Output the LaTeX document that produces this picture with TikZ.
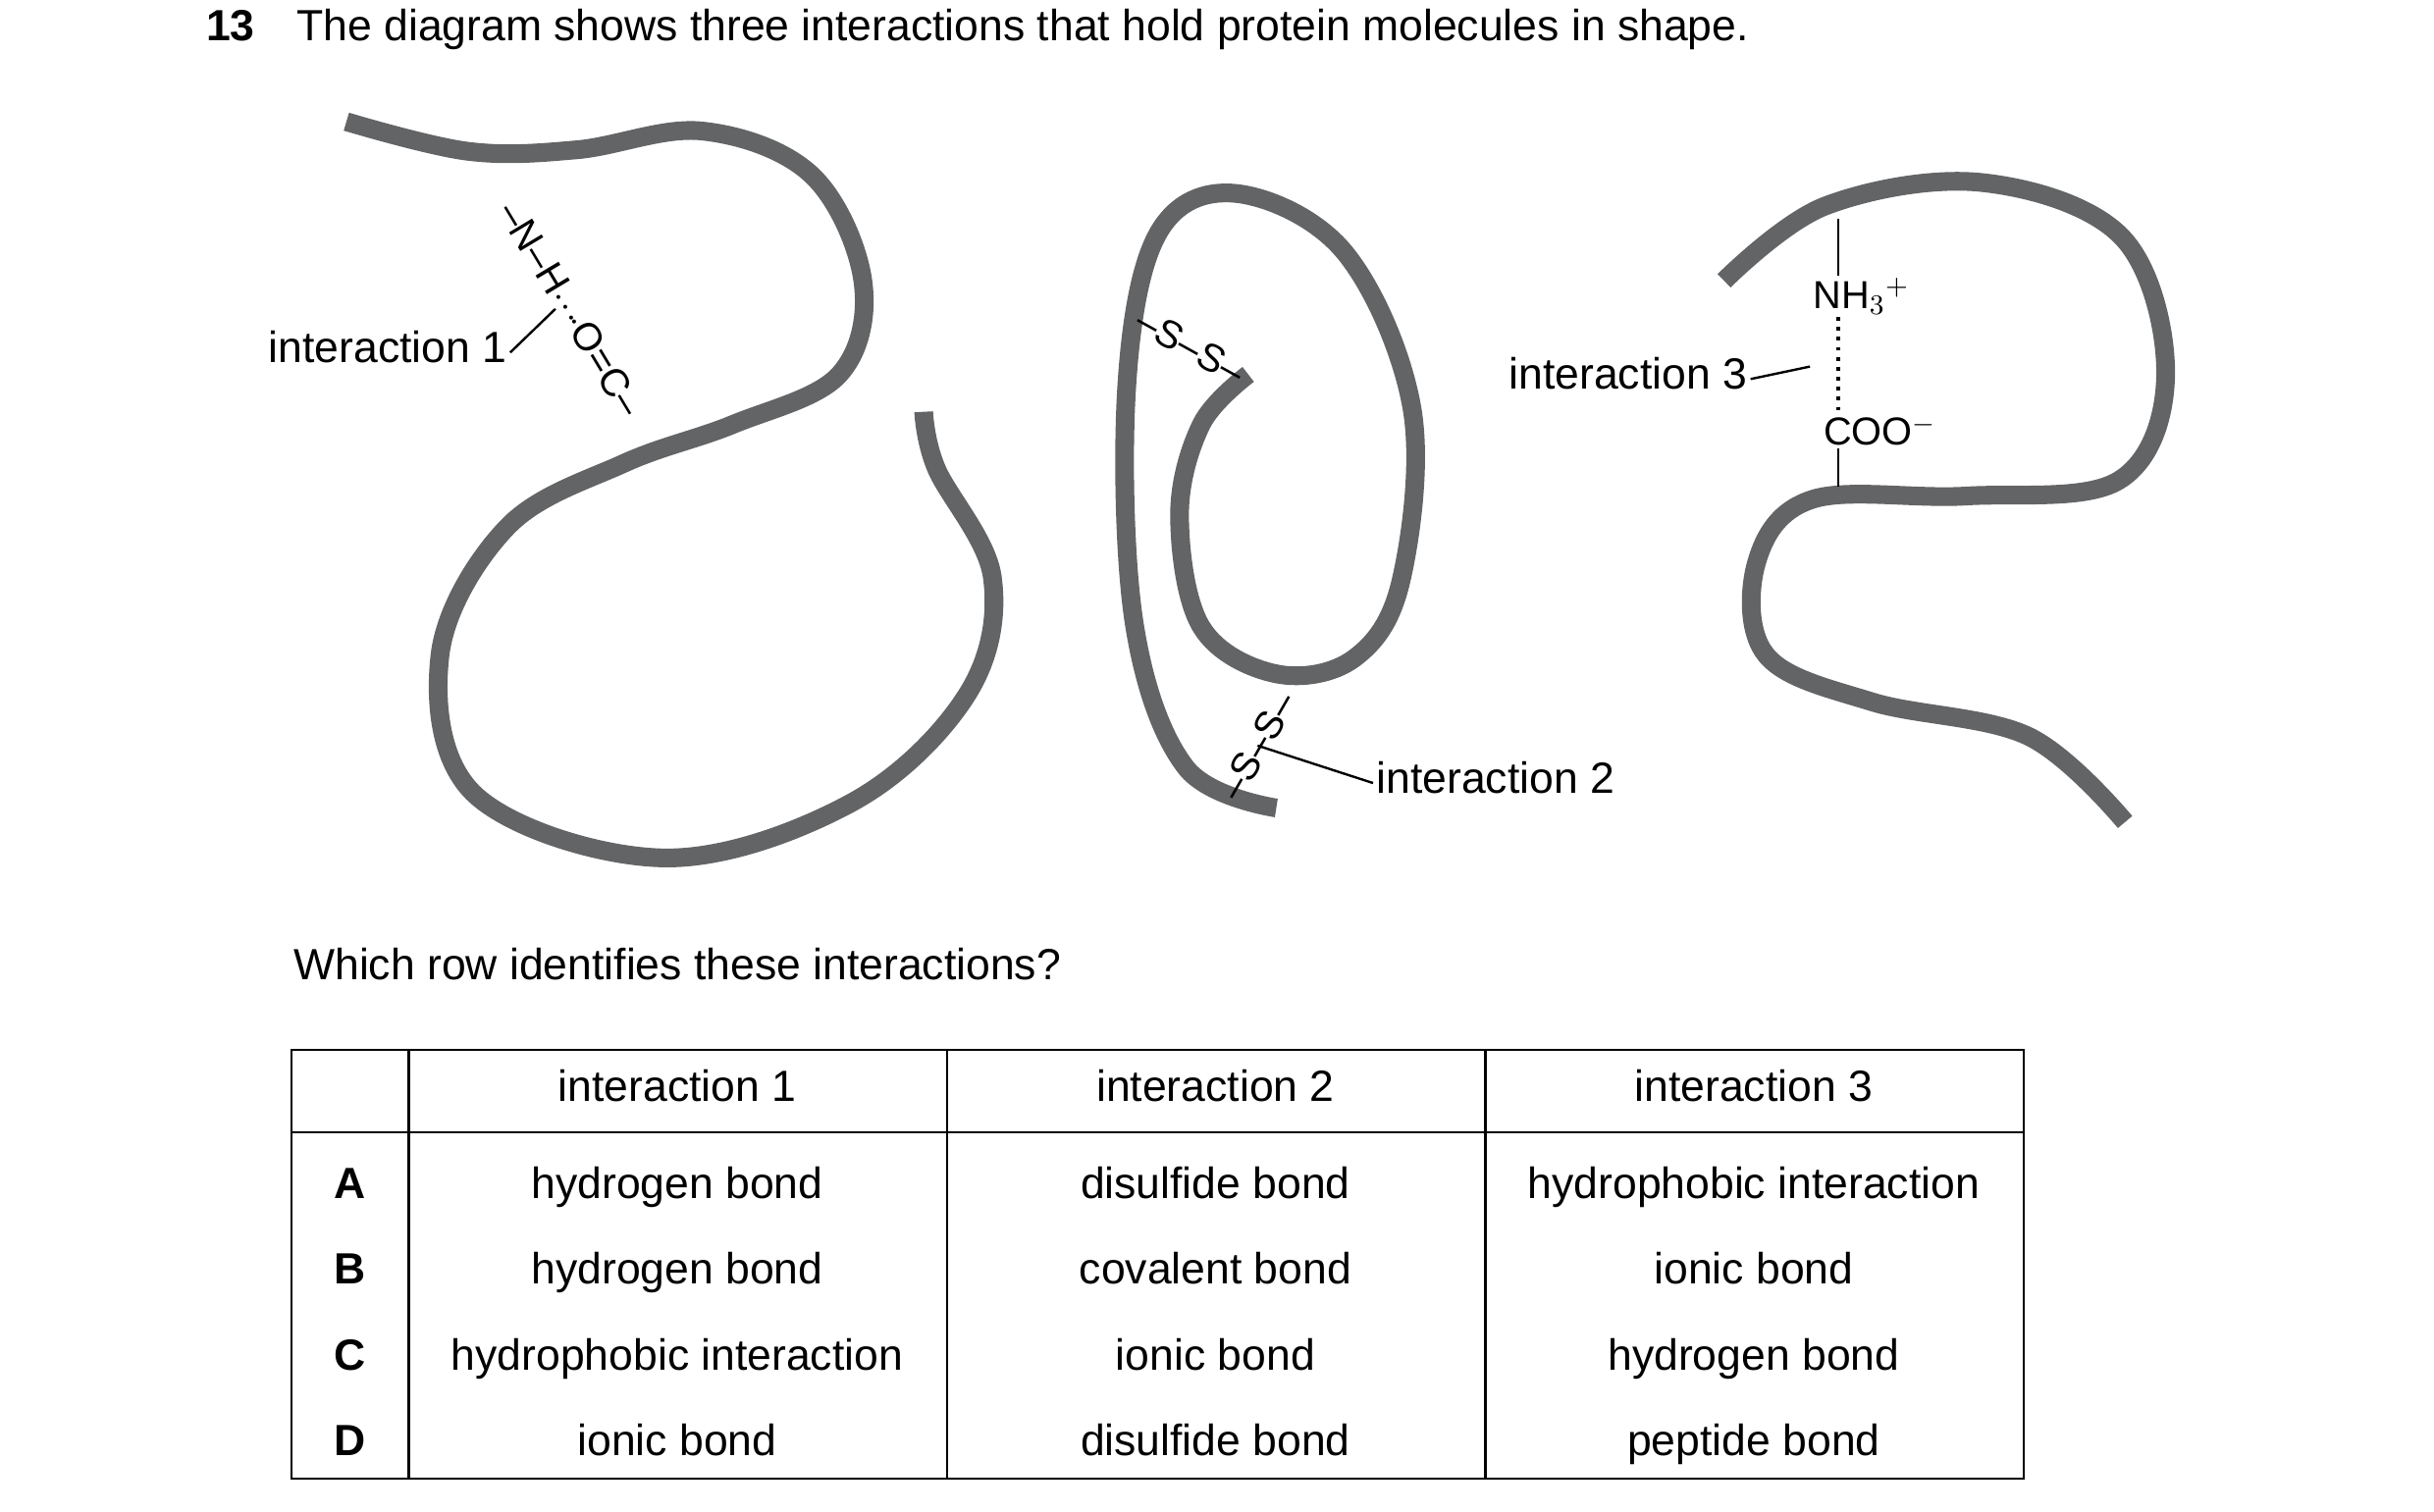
\documentclass[tikz,border=0pt]{standalone}
\usepackage{fontspec}
\setmainfont{Liberation Sans}
\usetikzlibrary{positioning}
\tikzset{every picture/.style={line width=0.75pt},
  strand/.style={line width=6pt,color={rgb,255:red,99;green,100;blue,102},line cap=butt},
  lbl/.style={inner sep=0.75pt,text height=1.6ex,text depth=0.4ex,font=\fontsize{14}{16}\selectfont},
  chem/.style={inner sep=0.5pt,font=\fontsize{12.5}{14}\selectfont}}
\begin{document}
\begin{tikzpicture}[x=0.5pt,y=0.5pt,yscale=-1,xscale=1]
\useasboundingbox (0,0) rectangle (1560,969);

%Title
\node (num) [lbl,anchor=west,font=\fontsize{14}{16}\selectfont\bfseries] at (130,20) {13};
\node (title) [lbl,anchor=west] at (188,20) {The diagram shows three interactions that hold protein molecules in shape.};

%Strand 1
\draw [strand] plot [smooth,tension=0.6] coordinates {(222,78) (300,97) (370,96) (450,84) (520,112) (553,180) (538,240) (470,272) (400,297) (325,338) (282,420) (305,510) (425,550) (545,515) (620,445) (636,370) (600,300) (592,264)};
%Strand 2
\draw [strand] plot [smooth,tension=0.6] coordinates {(818,518) (760,492) (727,400) (722,250) (742,150) (792,124) (862,162) (905,262) (898,372) (868,422) (818,432) (770,402) (756,330) (770,272) (800,240)};
%Strand 3
\draw [strand] plot [smooth,tension=0.6] coordinates {(1105,180) (1170,132) (1270,117) (1360,152) (1388,240) (1358,308) (1260,318) (1162,320) (1126,360) (1132,420) (1200,450) (1300,472) (1362,527)};

%Interaction 1
\node (nh) [chem,rotate=-59] at (366,198) {–N–H$\cdot\!\cdot\!\cdot\!\cdot$O=C–};
\node (int1) [lbl,anchor=east] at (327,226) {interaction 1};
\coordinate (p1) at (356,198);
\draw (int1.east) -- (p1);

%Interaction 2
\node (ss1) [chem,rotate=-29] at (763,222) {–S–S–};
\node (ss2) [chem,rotate=60] at (806,478) {–S–S–};
\node (int2) [lbl,anchor=west] at (880,502) {interaction 2};
\draw (int2.west) -- (ss2.center);

%Interaction 3
\node (nh3) [chem] at (1193,190) {NH$_3$$^+$};
\node (coo) [chem] at (1205,276) {COO$^-$};
\coordinate (t3) at (1178,140);
\coordinate (b3) at (1178,312);
\draw (t3) -- (nh3.north -| t3);
\draw (coo.south -| b3) -- (b3);
\draw [dotted,line width=1.2pt] (nh3.south -| t3) -- (coo.north -| t3);
\node (int3) [lbl,anchor=east] at (1122,243) {interaction 3};
\coordinate (p3) at (1160,235);
\draw (int3.east) -- (p3);

%Question
\node (q) [lbl,anchor=west] at (186,622) {Which row identifies these interactions?};

%Table
\draw (187,673) rectangle (1297,948);
\draw (187,726) -- (1297,726);
\foreach \x in {262,607,952} \draw (\x,673) -- (\x,948);
\foreach \x/\t in {434/interaction 1,779/interaction 2,1124/interaction 3}
  \node (h\x) [lbl] at (\x,700) {\t};
\foreach \y/\r/\a/\b/\c in {762/A/hydrogen bond/disulfide bond/hydrophobic interaction,
  817/B/hydrogen bond/covalent bond/ionic bond,
  872/C/hydrophobic interaction/ionic bond/hydrogen bond,
  927/D/ionic bond/disulfide bond/peptide bond}{
  \node (r\r) [lbl,font=\fontsize{14}{16}\selectfont\bfseries] at (224,\y) {\r};
  \node (a\r) [lbl] at (434,\y) {\a};
  \node (b\r) [lbl] at (779,\y) {\b};
  \node (c\r) [lbl] at (1124,\y) {\c};
}
\end{tikzpicture}
\end{document}
